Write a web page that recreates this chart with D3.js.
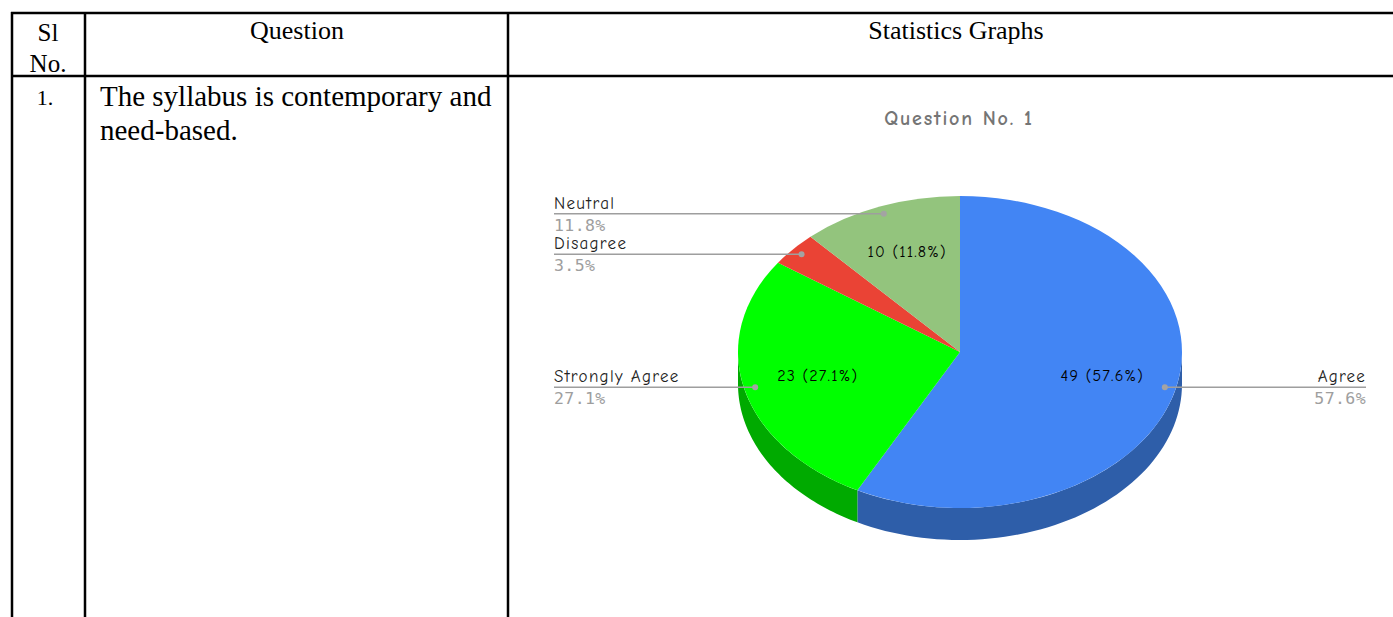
<!DOCTYPE html>
<meta charset="utf-8">
<script src="https://d3js.org/d3.v7.min.js"></script>
<style>
  body { margin: 0; background: #fff; }
</style>
<div id="my_dataviz"></div>
<script>

// chart data
var categories = ["Agree", "Strongly Agree", "Disagree", "Neutral"];
var counts = [49, 23, 3, 10];
var sliceColors = ["#4285f4", "#00ff00", "#ea4335", "#93c47d"];
var sideColors = ["#2e5ea9", "#00aa00", "#a32f25", "#678a57"];

// table texts
var headers = ["Question", "Statistics Graphs"];
var questionLines = ["The syllabus is contemporary and", "need-based."];

var width = 1393, height = 617;

var svg = d3.select("#my_dataviz").append("svg")
    .attr("width", width)
    .attr("height", height);

// ---- TABLE ----
var colX = [12, 85, 508];
var rowY = [13, 76];
var tbl = svg.append("g").attr("stroke", "#000").attr("stroke-width", 2.5);

rowY.forEach(function(y) {
  tbl.append("line").attr("x1", 11).attr("x2", width).attr("y1", y).attr("y2", y);
});
colX.forEach(function(x) {
  tbl.append("line").attr("x1", x).attr("x2", x).attr("y1", 12).attr("y2", height);
});

var serif = "'Liberation Serif', 'Times New Roman', serif";

svg.append("text").attr("x", 48).attr("y", 41).attr("text-anchor", "middle")
  .style("font", "25px " + serif).text("Sl");
svg.append("text").attr("x", 48).attr("y", 72).attr("text-anchor", "middle")
  .style("font", "25px " + serif).text("No.");
svg.append("text").attr("x", 297).attr("y", 39).attr("text-anchor", "middle")
  .style("font", "26px " + serif).text(headers[0]);
svg.append("text").attr("x", 956).attr("y", 39).attr("text-anchor", "middle")
  .style("font", "26px " + serif).text(headers[1]);
svg.append("text").attr("x", 45).attr("y", 105).attr("text-anchor", "middle")
  .style("font", "22px " + serif).text("1.");

svg.selectAll("text.q").data(questionLines).enter().append("text")
  .attr("class", "q")
  .attr("x", 100)
  .attr("y", function(d, i) { return 106 + i * 34; })
  .style("font", "29px " + serif)
  .text(function(d) { return d; });

// ---- 3D PIE ----
var comic = "'Comic Sans MS', 'Comic Neue', 'DejaVu Sans', sans-serif";
var cx = 960, cy = 352, rx = 222, ry = 156, depth = 32;
var total = d3.sum(counts);

svg.append("text")
  .attr("x", 959).attr("y", 125)
  .attr("text-anchor", "middle")
  .style("font", "bold 20px " + comic)
  .style("letter-spacing", "1.8px")
  .attr("fill", "#757575")
  .text("Question No. 1");

var pie = d3.pie().sort(null).value(function(d) { return d; });
var arcs = pie(counts);

function ellPt(a, fx, fy, dy) {
  return [cx + rx * fx * Math.sin(a), cy - ry * fy * Math.cos(a) + (dy || 0)];
}

// side walls (front half only)
var side = svg.append("g");
arcs.forEach(function(d, i) {
  var s = Math.max(d.startAngle, Math.PI / 2),
      e = Math.min(d.endAngle, 3 * Math.PI / 2);
  if (s >= e) return;
  var n = 60, top = [], bot = [];
  for (var k = 0; k <= n; k++) {
    var a = s + (e - s) * k / n;
    top.push(ellPt(a, 1, 1, 0));
    bot.push(ellPt(a, 1, 1, depth));
  }
  var pts = top.concat(bot.reverse());
  side.append("path")
    .attr("d", d3.line()(pts) + "Z")
    .attr("fill", sideColors[i]);
});

// top face
var arc = d3.arc().innerRadius(0).outerRadius(rx);
svg.append("g")
  .attr("transform", "translate(" + cx + "," + cy + ") scale(1," + (ry / rx) + ")")
  .selectAll("path").data(arcs).enter().append("path")
  .attr("d", arc)
  .attr("fill", function(d, i) { return sliceColors[i]; });

// inner labels
arcs.forEach(function(d, i) {
  var pct = d.value / total * 100;
  if (pct < 5) return;
  var m = (d.startAngle + d.endAngle) / 2;
  var p = ellPt(m, 0.66, 0.68, -2);
  svg.append("text")
    .attr("x", p[0]).attr("y", p[1] + 6)
    .attr("text-anchor", "middle")
    .style("font", "16px " + comic)
    .style("letter-spacing", "1.2px")
    .attr("fill", "#000")
    .text(d.value + " (" + pct.toFixed(1) + "%)");
});

// leader lines + outside labels
var leftX = 554, rightX = 1366;
arcs.forEach(function(d, i) {
  var pct = (d.value / total * 100).toFixed(1) + "%";
  var m = (d.startAngle + d.endAngle) / 2;
  var p = ellPt(m, 0.95, 0.95);
  var right = Math.sin(m) > 0;
  var endX = right ? rightX : leftX;
  var anchor = right ? "end" : "start";
  svg.append("line")
    .attr("x1", p[0]).attr("x2", endX)
    .attr("y1", p[1]).attr("y2", p[1])
    .attr("stroke", "#9e9e9e").attr("stroke-width", 1.5);
  svg.append("circle")
    .attr("cx", p[0]).attr("cy", p[1]).attr("r", 3)
    .attr("fill", "#a3a3a3");
  svg.append("text")
    .attr("x", endX).attr("y", p[1] - 5)
    .attr("text-anchor", anchor)
    .style("font", "17px " + comic)
    .style("letter-spacing", right ? "1.2px" : "1.3px")
    .attr("fill", "#222")
    .text(categories[i]);
  svg.append("text")
    .attr("x", endX).attr("y", p[1] + 17)
    .attr("text-anchor", anchor)
    .style("font", "16.5px 'DejaVu Sans Mono', monospace")
    .style("letter-spacing", "0.4px")
    .attr("fill", "#9e9e9e")
    .text(pct);
});

</script>
